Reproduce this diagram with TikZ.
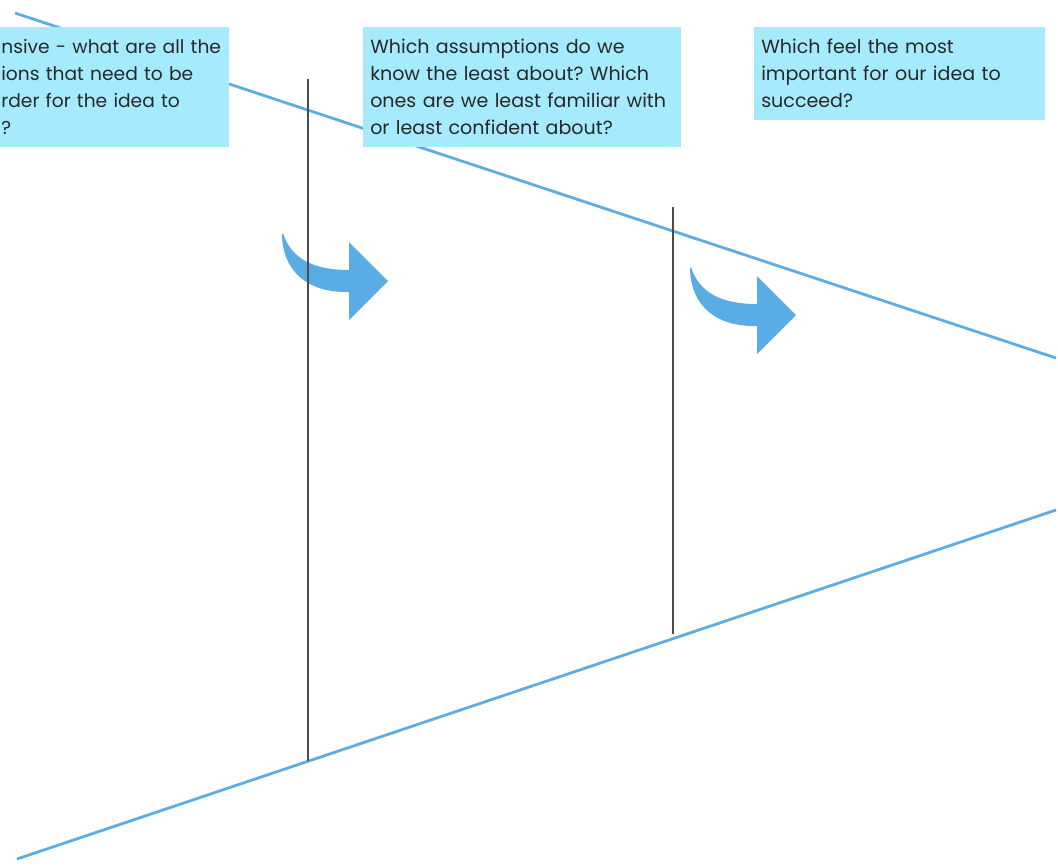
\documentclass[tikz,border=0pt]{standalone}
\usepackage{fontspec}
\setmainfont{Poppins}
\frenchspacing
\usetikzlibrary{arrows,shapes}
\definecolor{notecyan}{RGB}{166,235,253}
\definecolor{lineblue}{RGB}{93,173,226}
\definecolor{arrowblue}{RGB}{90,172,228}
\definecolor{notetext}{RGB}{40,40,40}
\tikzstyle{note} = [rectangle, fill=notecyan, text=notetext, align=left, inner xsep=5.25pt, inner ysep=4.5pt, font=\fontsize{14.3}{20.25}\selectfont]
\tikzstyle{edge} = [draw=lineblue, line width=2.1pt]
\tikzstyle{divider} = [draw=black!70, line width=1.1pt]
% bent arrow, head base centred on #1
\newcommand{\bentarrow}[1]{%
  \fill[arrowblue, shift={(#1)}] (-66,-48) .. controls (-58,-22) and (-35,-11) .. (0,-11)
    -- (0,-39) -- (39,0) -- (0,39) -- (0,11) .. controls (-42,12) and (-66,-10) .. (-67,-46) -- cycle;}

\begin{document}
\begin{tikzpicture}[x=0.75pt, y=-0.75pt]
   \useasboundingbox (0,0) rectangle (1058,865);
   % points
   \coordinate (tl)  at (15,13);
   \coordinate (tr)  at (1056,358);
   \coordinate (bl)  at (17,859);
   \coordinate (br)  at (1056,510);
   \coordinate (d1t) at (308,79);
   \coordinate (d1b) at (308,761);
   \coordinate (d2t) at (673,207);
   \coordinate (d2b) at (673,634);
   \coordinate (a1)  at (349,281);
   \coordinate (a2)  at (757,315);

   % funnel
   \draw[edge] (tl) -- (tr);
   \draw[edge] (bl) -- (br);
   \bentarrow{a1}
   \bentarrow{a2}
   \draw[divider] (d1t) -- (d1b);
   \draw[divider] (d2t) -- (d2b);

   % nodes
   \node[note, anchor=north east, inner xsep=1.5pt, text width=169pt, minimum height=90pt,
         font=\fontsize{14}{20.25}\selectfont] (list) at (229,27)
      {nsive~-~what~are~all~the\\ions that need to be\\rder for the idea to\\?};
   \node[note, anchor=north west, text width=228pt, minimum height=90pt] (least) at (363,27)
      {Which assumptions do we\\know the least about? Which\\ones are we least familiar with\\or least confident about?};
   \node[note, anchor=north west, text width=207.75pt, minimum height=69.75pt] (most) at (754,27)
      {Which feel the most\\important for our idea to\\succeed?};
\end{tikzpicture}
\end{document}
